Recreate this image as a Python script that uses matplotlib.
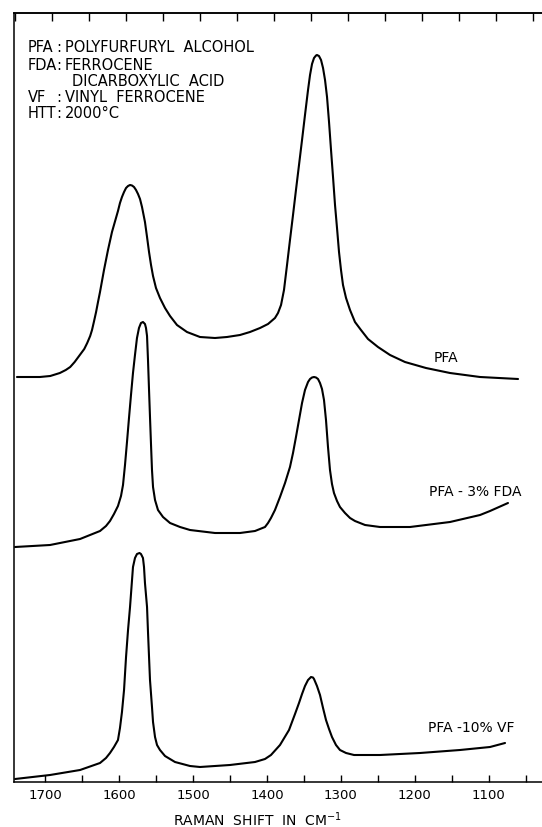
import matplotlib
matplotlib.use("Agg")
import matplotlib.pyplot as plt
from matplotlib.ticker import MultipleLocator

# Raman shift (cm^-1) and relative intensity (arbitrary units, offset traces)
pfa_w = [1738, 1707, 1693, 1680, 1672, 1666, 1660, 1653, 1647, 1643, 1639, 1636.5,
         1634, 1631, 1628.4, 1625.7, 1623, 1620.3, 1617.6, 1614.9, 1612.2, 1609.5,
         1606.8, 1604.1, 1601.4, 1598.7, 1596, 1593.2, 1590.5, 1587.8, 1585.1,
         1582.4, 1579.7, 1577, 1574.3, 1571.6, 1568.9, 1564.9, 1562.1, 1559.4,
         1556.7, 1554, 1550, 1544.6, 1537.8, 1531, 1521.6, 1508.1, 1490.5, 1470.2,
         1454, 1436.4, 1422.9, 1409.3, 1398.5, 1389.1, 1385, 1380.9, 1376.9, 1372.8,
         1368.8, 1364.7, 1360.7, 1356.6, 1352.5, 1348.5, 1344.4, 1341.7, 1339,
         1336.3, 1333.6, 1332.3, 1329.6, 1326.8, 1324.1, 1321.4, 1318.7, 1316,
         1313.3, 1310.6, 1307.9, 1305.2, 1302.5, 1299.8, 1297.1, 1293, 1287.6,
         1280.9, 1272.8, 1263.3, 1249.8, 1233.5, 1213.3, 1184.9, 1152.4, 1111.8, 1060.4]
pfa_i = [405, 405, 406, 409, 412, 415, 420, 427, 433, 439, 446, 452,
         460, 470, 480, 490, 501, 512, 522, 532, 541, 550,
         557, 564, 571, 579, 585, 590, 594, 596, 597,
         596.5, 595, 592, 588, 583, 575, 560, 545, 530,
         517, 506, 494, 484, 474, 466, 457, 450, 445, 444,
         445, 447, 450, 454, 458, 464, 469, 477, 492, 517,
         542, 567, 592, 617, 642, 667, 692, 707, 718,
         724, 726.5, 727, 726, 722, 714, 702, 685, 660,
         632, 605, 577, 554, 530, 512, 497, 484, 472,
         460, 452, 443, 435, 427, 420, 414, 409, 405, 403]

fda_w = [1740.6, 1693.3, 1652.7, 1625.7, 1617.6, 1612.2, 1606.8, 1601.4, 1597.3,
         1594.6, 1591.9, 1589.2, 1586.5, 1583.8, 1581.1, 1578.4, 1575.7, 1573,
         1570.3, 1567.6, 1564.9, 1563.5, 1562.1, 1560.8, 1559.4, 1558.1, 1556.7,
         1555.4, 1554, 1551.3, 1547.3, 1540.5, 1531, 1517.5, 1504, 1470.2, 1436.4,
         1416.1, 1402.6, 1398.5, 1394.5, 1389.1, 1382.3, 1375.5, 1368.8, 1364.7,
         1360.7, 1356.6, 1352.5, 1348.5, 1344.4, 1341.7, 1339, 1336.3, 1333.6,
         1330.9, 1328.2, 1325.5, 1322.8, 1320.1, 1317.4, 1314.7, 1312, 1309.3,
         1305.2, 1301.2, 1294.4, 1287.6, 1280.9, 1267.3, 1247.1, 1206.5, 1152.4,
         1111.8, 1098.3, 1074]
fda_i = [235, 237, 243, 251, 256, 261, 268, 276, 286,
         297, 317, 340, 364, 387, 409, 427, 444, 454,
         459, 460, 458, 454, 446, 422, 392, 365, 337,
         312, 295, 282, 272, 265, 259, 255, 252, 249, 249,
         251, 255, 259, 264, 272, 285, 299, 315, 329,
         345, 362, 379, 392, 400, 403, 404.5, 405, 404.5,
         403, 399, 393, 382, 362, 335, 312, 298, 289,
         281, 275, 269, 264, 261, 257, 255, 255, 260,
         267, 271, 279]

vf_w = [1740.6, 1693.3, 1652.7, 1625.7, 1617.6, 1612.2, 1606.8, 1601.4, 1598.7,
        1596, 1593.2, 1590.5, 1587.8, 1585.1, 1582.4, 1581.1, 1578.4, 1575.7,
        1572.3, 1570.3, 1567.6, 1566.2, 1564.9, 1562.1, 1560.8, 1559.4, 1558.1,
        1555.4, 1554, 1551.3, 1548.6, 1544.6, 1537.8, 1524.3, 1504, 1490.5, 1450,
        1416.1, 1402.6, 1394.5, 1382.3, 1370.1, 1362, 1356.6, 1352.5, 1348.5,
        1344.4, 1341.7, 1340.4, 1337.7, 1336.3, 1332.3, 1328.2, 1324.1, 1320.1,
        1316, 1312, 1306.6, 1301.2, 1293, 1282.2, 1247.1, 1193, 1138.9, 1098.3, 1078]
vf_i = [3, 7, 12, 19, 24, 29, 35, 42, 54,
        70, 92, 125, 152, 175, 202, 215, 224, 228,
        229, 228, 224, 215, 199, 175, 150, 125, 102,
        75, 60, 45, 37, 32, 26, 20, 16, 15, 17,
        20, 23, 27, 37, 52, 68, 79, 88, 96,
        102, 104, 105, 104.5, 103, 96, 87, 74, 62,
        53, 45, 37, 32, 29, 27, 27, 29, 32, 35, 39]

series = [(pfa_w, pfa_i), (fda_w, fda_i), (vf_w, vf_i)]
labels = ["PFA", "PFA - 3% FDA", "PFA -10% VF"]
label_pos = [(1174, 424), (1181, 290), (1182, 54)]

legend_keys = ["PFA", "FDA", "", "VF", "HTT"]
legend_vals = ["POLYFURFURYL  ALCOHOL", "FERROCENE", "DICARBOXYLIC  ACID",
               "VINYL  FERROCENE", "2000\u00b0C"]

W, H = 542, 827
fig = plt.figure(figsize=(W / 100, H / 100), dpi=100)
ax = fig.add_axes([14 / W, 1 - 782 / H, 528 / W, 769 / H])

for (w, i) in series:
    ax.plot(w, i, color="black", lw=1.5, solid_capstyle="round", solid_joinstyle="round")

for lab, (x, y) in zip(labels, label_pos):
    ax.text(x, y, lab, ha="left", va="center", fontsize=10)

ax.set_xlim(1742, 1028)
ax.set_ylim(0, 769)

ax.xaxis.set_major_locator(MultipleLocator(100))
ax.xaxis.set_minor_locator(MultipleLocator(50))
ax.tick_params(axis="x", which="both", direction="in", top=False, bottom=True,
               length=5, width=1, labelsize=9.5, pad=5)
ax.tick_params(axis="y", left=False, labelleft=False)
ax.spines["right"].set_visible(False)
for s in ["left", "top", "bottom"]:
    ax.spines[s].set_linewidth(1.1)

# top ticks (slightly offset on the original recorder chart)
sec = ax.secondary_xaxis("top", functions=(lambda w: w + 10, lambda w: w - 10))
sec.xaxis.set_major_locator(MultipleLocator(50))
sec.tick_params(axis="x", which="both", direction="in", length=6, width=1, labeltop=False)
sec.spines["top"].set_linewidth(1.1)

ax.set_xlabel("RAMAN  SHIFT  IN  CM$^{-1}$", fontsize=10)
ax.xaxis.set_label_coords((257 - 14) / 528, -(810 - 782) / 769)
ax.xaxis.label.set_va("top")

rows_y = [48, 65, 81, 97, 114]
for k, v, yp in zip(legend_keys, legend_vals, rows_y):
    yf = 1 - (yp - 13) / 769
    if k:
        ax.text((28 - 14) / 528, yf, k, transform=ax.transAxes, ha="left", va="center", fontsize=10.5)
        ax.text((59 - 14) / 528, yf, ":", transform=ax.transAxes, ha="center", va="center", fontsize=10.5)
        ax.text((65 - 14) / 528, yf, v, transform=ax.transAxes, ha="left", va="center", fontsize=10.5)
    else:
        ax.text((72 - 14) / 528, yf, v, transform=ax.transAxes, ha="left", va="center", fontsize=10.5)

fig.savefig("out.png", dpi=100)
